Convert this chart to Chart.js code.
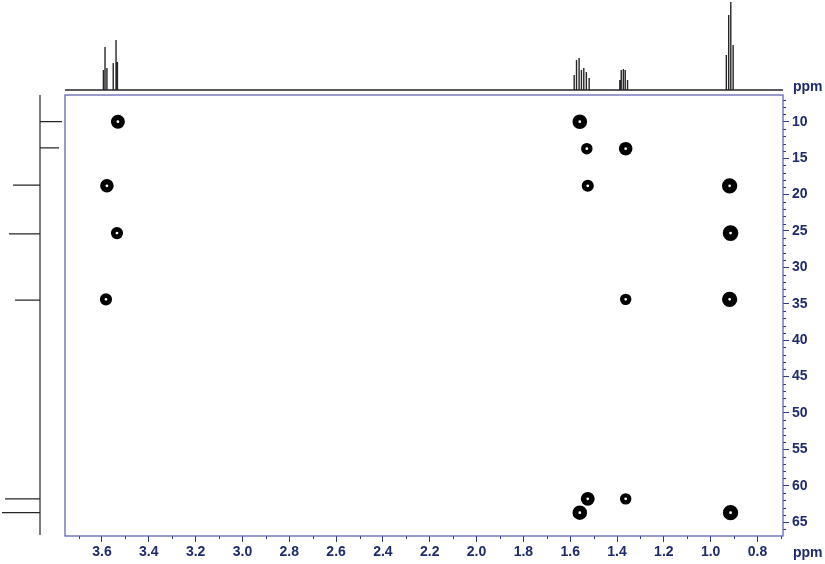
<!DOCTYPE html>
<html>
<head>
<meta charset="utf-8">
<script src="https://cdn.jsdelivr.net/npm/chart.js@4/dist/chart.umd.min.js"></script>
<style>
  html, body { margin: 0; padding: 0; background: #fff; }
  #wrap { position: relative; width: 825px; height: 564px; overflow: hidden;
          font-family: "Liberation Sans", Arial, sans-serif; }
  canvas { position: absolute; left: 0; top: 0; }
  .unit { position: absolute; font-weight: bold; font-size: 14px; color: #1f2b6e; }
</style>
</head>
<body>
<div id="wrap">
  <canvas id="main" width="825" height="564"></canvas>
  <canvas id="top" width="825" height="94"></canvas>
  <canvas id="left" width="65" height="564"></canvas>
  <div class="unit" style="left:793px;top:78px">ppm</div>
  <div class="unit" style="left:793px;top:544px">ppm</div>
</div>
<script>
/* ---------- data ---------- */
// 2D cross peaks (1H ppm, 13C ppm) and their relative contour size
const peakH = [3.532, 1.559, 1.529, 1.363, 3.579, 1.525, 0.919, 3.536, 0.915, 3.583, 1.363, 0.919, 1.525, 1.363, 1.559, 0.915];
const peakC = [10.0, 10.0, 13.7, 13.7, 18.8, 18.8, 18.8, 25.3, 25.3, 34.4, 34.4, 34.4, 61.8, 61.8, 63.7, 63.7];
const peakIntensity = [0.7, 0.8, 0.35, 0.65, 0.65, 0.45, 0.9, 0.45, 0.95, 0.45, 0.35, 0.9, 0.7, 0.35, 0.8, 0.9];

// 1H projection (top): line positions and heights
const protonPpm = [3.594, 3.587, 3.579, 3.552, 3.540, 3.534,
                   1.583, 1.573, 1.562, 1.552, 1.542, 1.531, 1.519,
                   1.388, 1.382, 1.373, 1.365, 1.355,
                   0.933, 0.923, 0.914, 0.904];
const protonHeight = [20, 43, 22, 27, 50, 28,
                      15, 30, 32, 20, 22, 18, 12,
                      10, 20, 21, 20, 10,
                      35, 75, 88, 45];

// 13C projection (left): positions and heights (negative = drawn to the right)
const carbonPpm = [10.0, 13.6, 18.7, 25.4, 34.5, 61.8, 63.7];
const carbonHeight = [-22, -19, 27, 31, 25, 35, 38];

// axes
const xRange = [0.691, 3.758];
const yRange = [6.33, 66.9];
const xTicks = [3.6, 3.4, 3.2, 3.0, 2.8, 2.6, 2.4, 2.2, 2.0, 1.8, 1.6, 1.4, 1.2, 1.0, 0.8];
const yTicks = [10, 15, 20, 25, 30, 35, 40, 45, 50, 55, 60, 65];

const AXIS = '#2d3a88';
const LABEL = '#1f2b6e';
const FRAME = '#5558b4';
const TRACE = '#262626';
const FONT = {family: '"Liberation Sans", Arial, sans-serif', size: 14, weight: 'bold'};

/* minor ticks every 0.1 ppm / 1 ppm between the labelled ones */
const xMinor = [];
for (let i = 7; i <= 37; i++) if (i % 2 === 1) xMinor.push(i / 10);
const yMinor = [];
for (let v = 7; v <= 66; v++) if (v % 5 !== 0) yMinor.push(v);

const frameAndMinor = {
  id: 'frameAndMinor',
  afterDraw(chart) {
    const {ctx, chartArea: a, scales: {x, y}} = chart;
    ctx.save();
    ctx.strokeStyle = AXIS;
    ctx.lineWidth = 1;
    ctx.beginPath();
    xMinor.forEach(v => {
      const px = Math.round(x.getPixelForValue(v)) + 0.5;
      ctx.moveTo(px, a.bottom); ctx.lineTo(px, a.bottom + 3);
    });
    yMinor.forEach(v => {
      const py = Math.round(y.getPixelForValue(v)) + 0.5;
      ctx.moveTo(a.right, py); ctx.lineTo(a.right + 3, py);
    });
    ctx.stroke();
    ctx.strokeStyle = FRAME;
    ctx.lineWidth = 1.2;
    ctx.strokeRect(a.left, a.top, a.right - a.left, a.bottom - a.top);
    ctx.restore();
  }
};

/* ---------- 2D map ---------- */
function outerR(i) { return 4.5 + 3.5 * peakIntensity[i]; }
const HOLE = 1.4;

new Chart(document.getElementById('main'), {
  type: 'scatter',
  data: {
    datasets: [{
      data: peakH.map((h, i) => ({x: h, y: peakC[i]})),
      pointStyle: 'circle',
      backgroundColor: '#fff',
      borderColor: '#000',
      pointRadius: c => (outerR(c.dataIndex) + HOLE) / 2,
      pointBorderWidth: c => outerR(c.dataIndex) - HOLE
    }]
  },
  options: {
    responsive: false,
    animation: false,
    events: [],
    layout: {padding: {left: 65, top: 95, right: 0, bottom: 0}},
    plugins: {legend: {display: false}, tooltip: {enabled: false}},
    scales: {
      x: {
        type: 'linear', position: 'bottom', reverse: true,
        min: xRange[0], max: xRange[1],
        afterBuildTicks: s => { s.ticks = xTicks.map(v => ({value: v})); },
        afterFit: s => { s.height = 28; },
        border: {display: false},
        grid: {drawOnChartArea: false, drawTicks: true, tickLength: 6, tickColor: AXIS, tickWidth: 1},
        ticks: {color: LABEL, font: FONT, padding: 2, maxRotation: 0, autoSkip: false,
                callback: v => Number(v).toFixed(1)}
      },
      y: {
        type: 'linear', position: 'right', reverse: true,
        min: yRange[0], max: yRange[1],
        afterBuildTicks: s => { s.ticks = yTicks.map(v => ({value: v})); },
        afterFit: s => { s.width = 42; },
        border: {display: false},
        grid: {drawOnChartArea: false, drawTicks: true, tickLength: 6, tickColor: AXIS, tickWidth: 1},
        ticks: {color: LABEL, font: FONT, padding: 3, autoSkip: false,
                callback: v => String(v)}
      }
    }
  },
  plugins: [frameAndMinor]
});

/* ---------- 1H projection ---------- */
const protonTrace = [{x: xRange[1], y: 0}];
protonPpm.forEach((p, i) => {
  protonTrace.push({x: p, y: 0}, {x: p, y: protonHeight[i]}, {x: p, y: 0});
});
protonTrace.push({x: xRange[0], y: 0});

new Chart(document.getElementById('top'), {
  type: 'scatter',
  data: {datasets: [{data: protonTrace, showLine: true, borderColor: TRACE, borderWidth: 1.4,
                     pointRadius: 0, clip: false}]},
  options: {
    responsive: false, animation: false, events: [],
    layout: {padding: {left: 65, right: 42, top: 0, bottom: 4}},
    plugins: {legend: {display: false}, tooltip: {enabled: false}},
    scales: {
      x: {type: 'linear', display: false, reverse: true, min: xRange[0], max: xRange[1]},
      y: {type: 'linear', display: false, min: 0, max: 90}
    }
  }
});

/* ---------- 13C projection ---------- */
const carbonTrace = [{x: 0, y: yRange[0]}];
carbonPpm.forEach((c, i) => {
  carbonTrace.push({x: 0, y: c}, {x: carbonHeight[i], y: c}, {x: 0, y: c});
});
carbonTrace.push({x: 0, y: yRange[1] - 0.15});

new Chart(document.getElementById('left'), {
  type: 'scatter',
  data: {datasets: [{data: carbonTrace, showLine: true, borderColor: TRACE, borderWidth: 1.2,
                     pointRadius: 0, clip: false}]},
  options: {
    responsive: false, animation: false, events: [],
    layout: {padding: {left: 0, right: 1, top: 95, bottom: 28}},
    plugins: {legend: {display: false}, tooltip: {enabled: false}},
    scales: {
      x: {type: 'linear', display: false, reverse: true, min: -24, max: 40},
      y: {type: 'linear', display: false, reverse: true, min: yRange[0], max: yRange[1]}
    }
  }
});
</script>
</body>
</html>
